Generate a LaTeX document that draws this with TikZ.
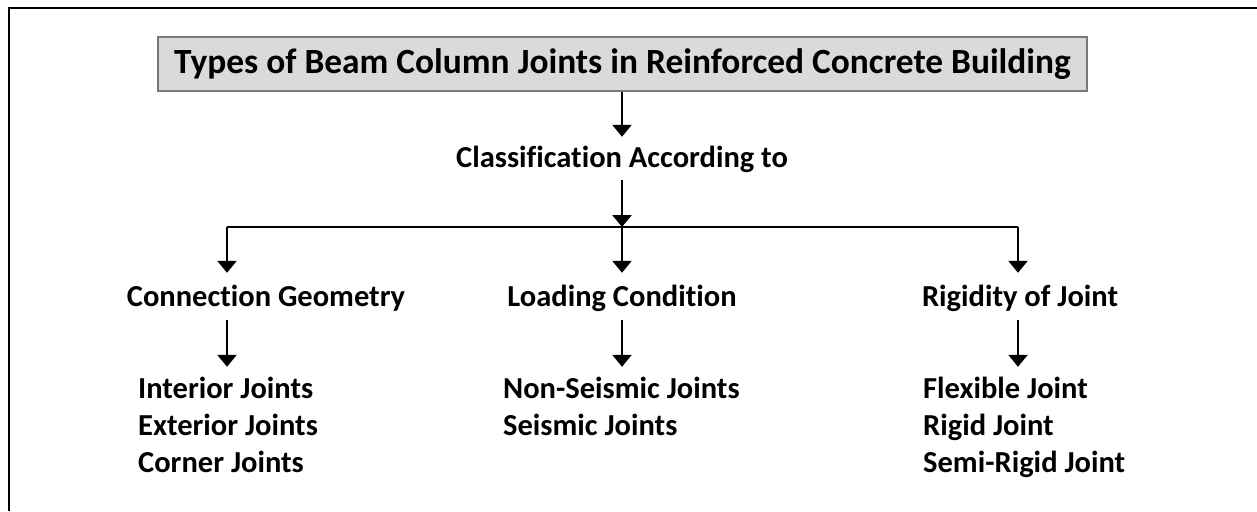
\documentclass[tikz,border=0pt]{standalone}
\usepackage{fontspec}
\setmainfont{Carlito}[Ligatures=NoCommon]
\usetikzlibrary{arrows.meta}
\definecolor{titlefill}{RGB}{220,217,217}
\definecolor{titleedge}{RGB}{120,120,120}
\tikzset{
  txt/.style={font=\bfseries\fontsize{30.5}{36}\selectfont, inner sep=0pt, text height=22pt, text depth=6pt},
  titlebox/.style={draw=titleedge, line width=2pt, fill=titlefill, font=\bfseries\fontsize{35.4}{42}\selectfont, minimum width=929pt, minimum height=54pt, inner sep=0pt},
  arr/.style={line width=2.5pt, -{Triangle[width=19pt,length=12pt]}},
  link/.style={line width=2pt},
}
\begin{document}
\begin{tikzpicture}[x=1pt,y=-1pt]
\useasboundingbox (0,0) rectangle (1257,511);
\draw[line width=2pt] (1257,8) -- (9,8) -- (9,511);
\node[titlebox] (title) at (622.5,64) {Types of Beam Column Joints in Reinforced Concrete Building};
\node[txt, anchor=base] (class) at (622,167) {Classification According to};
\coordinate (bL) at (227,227);
\coordinate (bM) at (622,227);
\coordinate (bR) at (1018,227);
\node[txt, anchor=base] (geo) at (266,306) {Connection Geometry};
\node[txt, anchor=base] (load) at (622,306) {Loading Condition};
\node[txt, anchor=base] (rig) at (1020,306) {Rigidity of Joint};
\node[txt, anchor=base west] (g1) at (138,398) {Interior Joints};
\node[txt, anchor=base west] (g2) at (138,435) {Exterior Joints};
\node[txt, anchor=base west] (g3) at (138,472) {Corner Joints};
\node[txt, anchor=base west] (l1) at (503,398) {Non-Seismic Joints};
\node[txt, anchor=base west] (l2) at (503,435) {Seismic Joints};
\node[txt, anchor=base west] (r1) at (923,398) {Flexible Joint};
\node[txt, anchor=base west] (r2) at (923,435) {Rigid Joint};
\node[txt, anchor=base west] (r3) at (923,472) {Semi-Rigid Joint};
\draw[arr, shorten >=8pt] (title.south -| class) -- (class.north);
\draw[arr, shorten <=7pt] (class.south) -- (bM);
\draw[link] (bL) -- (bR);
\draw[arr, shorten >=11pt] (bL) -- (bL |- geo.north);
\draw[arr, shorten >=11pt] (bM) -- (bM |- load.north);
\draw[arr, shorten >=11pt] (bR) -- (bR |- rig.north);
\draw[arr, shorten <=8pt, shorten >=9pt] (bL |- geo.south) -- (bL |- g1.north);
\draw[arr, shorten <=8pt, shorten >=9pt] (bM |- load.south) -- (bM |- l1.north);
\draw[arr, shorten <=8pt, shorten >=9pt] (bR |- rig.south) -- (bR |- r1.north);
\end{tikzpicture}
\end{document}
